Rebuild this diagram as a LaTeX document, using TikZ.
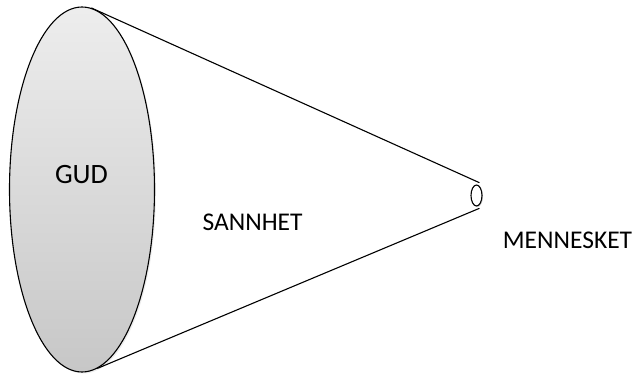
\documentclass[tikz,border=0pt]{standalone}
\usepackage{fontspec}
\setmainfont{Carlito}
\usepackage{tikz}
\usetikzlibrary{shapes.geometric,shadows}

\begin{document}
\begin{tikzpicture}
			[
				x=1pt, y=1pt,
				align=center,
				rim/.style={ellipse, draw, line width=1.1pt, inner sep=0pt},
				label/.style={draw=none, fill=none, inner sep=0pt, font=\fontsize{25.5}{30}\selectfont},
				cone/.style={line width=1.1pt, line cap=round}
			]

			\useasboundingbox (0,0) rectangle (640,376);

			% ends of the cone
			\node[rim, minimum width=145, minimum height=365, top color=black!7, bottom color=black!22,
				drop shadow={opacity=0.15, shadow xshift=1.5pt, shadow yshift=-1.5pt}] (gud) at ( 82.0, 186.5 ) {};
			\node[rim, minimum width=11, minimum height=21, fill=white,
				drop shadow={opacity=0.35, shadow xshift=1pt, shadow yshift=-1pt}] (menn) at ( 476.5, 180.5 ) {};

			% texts
			\node[label, font=\fontsize{28}{32}\selectfont] (gudtext) at ( 81.5, 201.5 ) {GUD};
			\node[label] (sannhet) at ( 252.5, 153.5 ) {SANNHET};
			\node[label] (mennesket) at ( 567.5, 136.0 ) {MENNESKET};

			% sides of the cone
			\draw[cone] (gud.87) -- ([yshift=3]menn.75);
			\draw[cone] (gud.-85) -- ([yshift=-3]menn.-75);

		\end{tikzpicture}
\end{document}
